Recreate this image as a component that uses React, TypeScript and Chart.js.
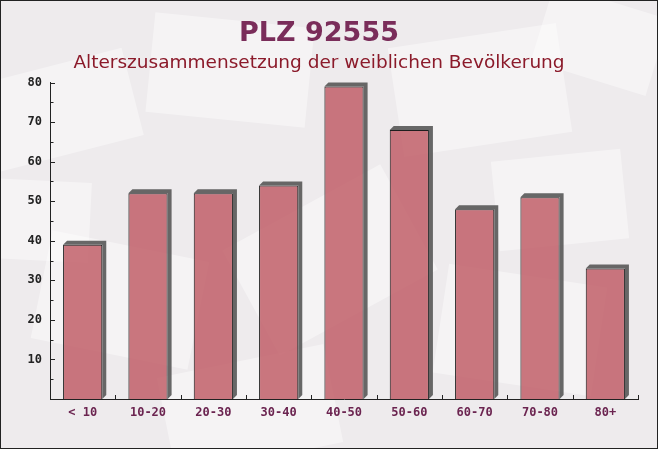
import React, { useEffect, useRef } from "react";
import { Chart, registerables } from "chart.js";

Chart.register(...registerables);

const categories = ["< 10", "10-20", "20-30", "30-40", "40-50", "50-60", "60-70", "70-80", "80+"];
const values = [39, 52, 52, 54, 79, 68, 48, 51, 33];
const yTicks = [5, 10, 15, 20, 25, 30, 35, 40, 45, 50, 55, 60, 65, 70, 75, 80];

const titleText = "PLZ 92555";
const subtitleText = "Alterszusammensetzung der weiblichen Bevölkerung";

const backgroundPlugin = {
  id: "bgPlugin",
  beforeDraw(chart: any) {
    const { ctx, width, height } = chart;
    ctx.save();
    ctx.fillStyle = "#eeebed";
    ctx.fillRect(0, 0, width, height);
    // faint envelope-like watermark shapes
    const shapes = [
      [60, 110, 150, 90, -0.25],
      [230, 70, 160, 100, 0.1],
      [480, 90, 170, 110, -0.15],
      [600, 40, 120, 80, 0.3],
      [120, 300, 160, 110, 0.2],
      [330, 260, 180, 120, -0.5],
      [520, 330, 160, 110, 0.15],
      [250, 410, 170, 100, -0.2],
      [30, 220, 120, 80, 0.05],
      [560, 200, 130, 90, -0.1],
    ];
    ctx.fillStyle = "rgba(255,255,255,0.4)";
    for (const [x, y, w, h, r] of shapes) {
      ctx.save();
      ctx.translate(x, y);
      ctx.rotate(r);
      ctx.fillRect(-w / 2, -h / 2, w, h);
      ctx.restore();
    }
    ctx.restore();
  },
  afterDraw(chart: any) {
    const { ctx, width, height } = chart;
    ctx.save();
    ctx.strokeStyle = "#222";
    ctx.lineWidth = 1;
    ctx.strokeRect(0.5, 0.5, width - 1, height - 1);
    ctx.restore();
  },
};

const depthPlugin = {
  id: "depthPlugin",
  beforeDatasetsDraw(chart: any) {
    const { ctx } = chart;
    const meta = chart.getDatasetMeta(0);
    const d = 4;
    ctx.save();
    ctx.fillStyle = "rgba(95,95,95,0.95)";
    meta.data.forEach((bar: any) => {
      const p = bar.getProps(["x", "y", "base", "width"], true);
      const x0 = p.x - p.width / 2;
      const x1 = p.x + p.width / 2;
      const top = p.y;
      const base = p.base;
      ctx.beginPath();
      ctx.moveTo(x0, top);
      ctx.lineTo(x0 + d, top - d);
      ctx.lineTo(x1 + d, top - d);
      ctx.lineTo(x1 + d, base - d);
      ctx.lineTo(x1, base);
      ctx.lineTo(x1, top);
      ctx.closePath();
      ctx.fill();
    });
    ctx.restore();
  },
  afterDatasetsDraw(chart: any) {
    const { ctx, chartArea } = chart;
    const y = chart.scales.y;
    const x = chart.scales.x;
    ctx.save();
    ctx.strokeStyle = "#222";
    ctx.lineWidth = 1;
    ctx.beginPath();
    yTicks.forEach((v) => {
      const py = Math.round(y.getPixelForValue(v)) + 0.5;
      const len = v % 10 === 0 ? 5 : 3.5;
      ctx.moveTo(chartArea.left, py);
      ctx.lineTo(chartArea.left + len, py);
    });
    const n = categories.length;
    for (let i = 1; i <= n; i++) {
      const px =
        i < n
          ? (x.getPixelForTick(i - 1) + x.getPixelForTick(i)) / 2
          : chartArea.right;
      const rx = Math.round(px) + 0.5;
      ctx.moveTo(rx, chartArea.bottom);
      ctx.lineTo(rx, chartArea.bottom - 4);
    }
    ctx.stroke();
    ctx.restore();
  },
};

export default function App() {
  const ref = useRef<HTMLCanvasElement | null>(null);

  useEffect(() => {
    document.body.style.margin = "0";
    const canvas = ref.current;
    if (!canvas) return;
    const chart = new Chart(canvas, {
      type: "bar",
      data: {
        labels: categories,
        datasets: [
          {
            data: values,
            backgroundColor: "rgba(190,86,96,0.8)",
            borderColor: "#1e1e1e",
            borderWidth: 1,
            borderSkipped: "bottom",
            categoryPercentage: 0.6,
            barPercentage: 1,
          },
        ],
      },
      options: {
        responsive: false,
        animation: false,
        devicePixelRatio: 1,
        layout: { padding: { left: 0, right: 20, top: 0, bottom: 0 } },
        plugins: {
          legend: { display: false },
          tooltip: { enabled: false },
          title: {
            display: true,
            text: titleText,
            color: "#7a2d5a",
            font: { family: "DejaVu Sans", size: 27, weight: "bold" },
            padding: { top: 18, bottom: 0 },
          },
          subtitle: {
            display: true,
            text: subtitleText,
            color: "#8b1a2a",
            font: { family: "DejaVu Sans", size: 18.5, weight: "normal" },
            padding: { top: 2, bottom: 8 },
          },
        },
        scales: {
          x: {
            grid: { display: false, drawTicks: false },
            border: { display: true, color: "#222", width: 1 },
            ticks: {
              color: "#6b2450",
              font: { family: "DejaVu Sans Mono", size: 12, weight: "bold" },
              padding: 7,
            },
            afterFit(s: any) {
              s.height = 50;
            },
          },
          y: {
            min: 0,
            max: 80,
            grid: { display: false, drawTicks: false },
            border: { display: true, color: "#222", width: 1 },
            ticks: {
              stepSize: 5,
              color: "#222",
              font: { family: "DejaVu Sans Mono", size: 12, weight: "bold" },
              padding: 8,
              callback: (v: any) => (v % 10 === 0 && v > 0 ? String(v) : ""),
            },
            afterFit(s: any) {
              s.width = 50;
            },
          },
        },
      },
      plugins: [backgroundPlugin, depthPlugin],
    });
    return () => chart.destroy();
  }, []);

  return <canvas ref={ref} width={658} height={449} style={{ display: "block" }} />;
}
